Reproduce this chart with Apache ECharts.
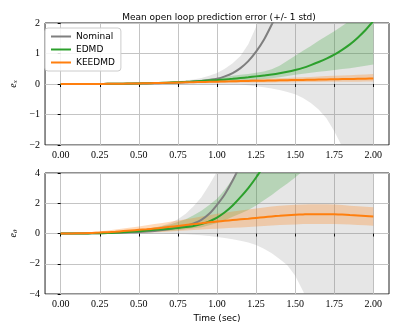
<!DOCTYPE html>
<html lang="en">
<head>
<meta charset="UTF-8">
<title>Mean open loop prediction error</title>
<style>html,body{margin:0;padding:0;background:#fff;}</style>
</head>
<body>
<div id="app" style="width:399px;height:332px;"></div>
<script src="https://cdn.jsdelivr.net/npm/echarts@6/dist/echarts.min.js"></script>
<script>
// time samples (sec)
const time = [0,0.05,0.1,0.15,0.2,0.25,0.3,0.35,0.4,0.45,0.5,0.55,0.6,0.65,0.7,0.75,0.8,0.85,0.9,0.95,
  1.0,1.05,1.1,1.15,1.2,1.25,1.3,1.35,1.4,1.45,1.5,1.55,1.6,1.65,1.7,1.75,1.8,1.85,1.9,1.95,2.0];
const xTicks = [0,0.25,0.5,0.75,1,1.25,1.5,1.75,2];

// e_x (top panel): mean, mean+std, mean-std
const nomX   = [0,0,0,0,0,0.003,0.005,0.007,0.01,0.012,0.015,0.02,0.025,0.032,0.04,0.05,0.06,0.08,0.1,0.13,
  0.17,0.25,0.36,0.52,0.75,1.06,1.45,1.95,2.5,3.3,4.2,5.3,6.5,8.2,10,12.5,15,18.5,22,27,32];
const nomXHi = [0,0.001,0.002,0.003,0.005,0.008,0.012,0.016,0.02,0.025,0.03,0.037,0.045,0.056,0.07,0.09,0.12,0.15,0.2,0.27,
  0.36,0.5,0.68,0.92,1.3,1.88,2.7,3.8,5,6.8,9,11.5,14,18,22,27,32,38,45,52,60];
const nomXLo = [0,0,-0.001,-0.002,-0.003,-0.005,-0.005,-0.005,-0.005,-0.005,-0.005,-0.005,-0.005,-0.005,-0.005,-0.005,-0.005,-0.005,-0.008,-0.01,
  -0.01,-0.01,-0.01,-0.02,-0.04,-0.07,-0.11,-0.15,-0.2,-0.26,-0.34,-0.46,-0.62,-0.84,-1.12,-1.55,-2.05,-2.7,-3.5,-4.6,-6];
const edX    = [0,0,0,0.001,0.002,0.003,0.005,0.007,0.01,0.015,0.02,0.025,0.03,0.04,0.05,0.06,0.07,0.085,0.1,0.115,
  0.13,0.15,0.17,0.195,0.22,0.25,0.28,0.31,0.35,0.4,0.46,0.53,0.62,0.72,0.83,0.96,1.12,1.3,1.52,1.77,2.07];
const edXHi  = [0,0,0.001,0.002,0.004,0.006,0.008,0.011,0.015,0.021,0.027,0.033,0.04,0.052,0.065,0.077,0.09,0.11,0.14,0.17,
  0.2,0.23,0.27,0.3,0.33,0.37,0.41,0.48,0.6,0.76,0.93,1.09,1.25,1.42,1.57,1.73,1.9,2.08,2.28,2.52,2.8];
const edXLo  = [0,0,0,0,0.001,0.002,0.003,0.004,0.006,0.009,0.013,0.016,0.02,0.027,0.035,0.042,0.05,0.06,0.07,0.075,
  0.08,0.09,0.1,0.11,0.12,0.14,0.16,0.19,0.22,0.26,0.3,0.34,0.37,0.4,0.43,0.46,0.49,0.52,0.56,0.6,0.64];
const kX     = [0,0,0,0.001,0.002,0.003,0.005,0.007,0.01,0.015,0.02,0.025,0.03,0.035,0.04,0.048,0.055,0.06,0.065,0.07,
  0.075,0.082,0.09,0.095,0.1,0.105,0.11,0.115,0.12,0.125,0.13,0.135,0.14,0.145,0.15,0.155,0.16,0.165,0.17,0.175,0.18];
const kXHi   = [0,0,0.001,0.002,0.004,0.007,0.01,0.015,0.02,0.025,0.03,0.037,0.045,0.052,0.06,0.07,0.08,0.088,0.095,0.103,
  0.11,0.12,0.13,0.14,0.15,0.16,0.17,0.18,0.19,0.2,0.21,0.22,0.23,0.245,0.26,0.27,0.28,0.29,0.3,0.315,0.33];
const kXLo   = [0,0,0,0,0,0,0,0.001,0.002,0.005,0.008,0.011,0.015,0.018,0.022,0.026,0.03,0.033,0.035,0.038,
  0.04,0.043,0.045,0.048,0.05,0.05,0.05,0.053,0.055,0.058,0.06,0.063,0.065,0.068,0.07,0.07,0.07,0.073,0.075,0.078,0.08];

// e_theta (bottom panel)
const nomT   = [0,0,0,0.005,0.01,0.02,0.03,0.045,0.06,0.08,0.1,0.13,0.17,0.23,0.3,0.39,0.5,0.66,0.9,1.3,
  1.9,2.6,3.5,4.6,6,7.6,9.5,11.5,14,17,20,24,28,33,38,44,50,57,65,75,85];
const nomTHi = [0,0.003,0.01,0.02,0.03,0.05,0.07,0.1,0.13,0.16,0.2,0.28,0.38,0.52,0.7,0.95,1.3,1.8,2.4,3.2,
  4.1,5.4,7,9,11,14,17,21,25,30,36,43,50,59,68,79,90,102,115,130,145];
const nomTLo = [0,0,0,0,0,-0.005,-0.005,-0.01,-0.01,-0.01,-0.01,-0.01,-0.005,0,-0.01,-0.03,-0.05,-0.08,-0.12,-0.17,
  -0.23,-0.3,-0.38,-0.48,-0.6,-0.76,-1.0,-1.3,-1.68,-2.1,-2.8,-3.8,-5,-6.4,-8,-10,-12,-14.5,-17,-20,-23];
const edT    = [0,0,0,0.005,0.01,0.02,0.03,0.05,0.08,0.11,0.15,0.19,0.24,0.28,0.32,0.37,0.43,0.5,0.62,0.8,
  1.05,1.4,1.85,2.4,3.0,3.7,4.5,5.4,6.5,7.7,9,10.5,12,14,16,18.5,21,24,27,30.5,34];
const edTHi  = [0,0.002,0.01,0.02,0.03,0.05,0.07,0.1,0.15,0.2,0.25,0.32,0.4,0.49,0.6,0.76,0.95,1.2,1.5,1.88,
  2.3,2.9,3.6,4.3,5.0,6,7,8.2,9.5,11,12.5,14,16,18.5,21,24,27,30.5,34,38,42];
const edTLo  = [0,0,0,0,0,0.005,0.01,0.02,0.03,0.05,0.08,0.1,0.12,0.15,0.18,0.22,0.28,0.34,0.42,0.54,
  0.7,0.88,1.1,1.32,1.55,1.85,2.2,2.55,2.95,3.3,3.7,4.15,4.6,5.1,5.6,6.2,6.8,7.4,8,8.7,9.5];
const kT     = [0,0.002,0.01,0.02,0.04,0.06,0.09,0.12,0.16,0.2,0.24,0.28,0.33,0.38,0.44,0.5,0.56,0.62,0.68,0.74,
  0.79,0.84,0.89,0.94,0.98,1.03,1.08,1.13,1.17,1.21,1.24,1.26,1.28,1.28,1.28,1.27,1.25,1.22,1.19,1.16,1.12];
const kTHi   = [0,0.01,0.03,0.06,0.1,0.15,0.2,0.26,0.33,0.4,0.47,0.54,0.62,0.7,0.78,0.86,0.95,1.03,1.12,1.21,
  1.3,1.38,1.45,1.52,1.58,1.65,1.72,1.78,1.83,1.87,1.9,1.92,1.94,1.94,1.93,1.91,1.88,1.84,1.8,1.77,1.74];
const kTLo   = [0,0,0,-0.005,-0.01,-0.01,0,0.01,0.02,0.03,0.04,0.06,0.08,0.1,0.13,0.16,0.2,0.23,0.27,0.3,
  0.32,0.35,0.38,0.4,0.43,0.46,0.5,0.53,0.56,0.58,0.6,0.62,0.63,0.63,0.63,0.62,0.61,0.59,0.57,0.54,0.51];

const GRAY = '#7f7f7f', GREEN = '#2ca02c', ORANGE = '#ff7f0e';
const SERIF = 'Liberation Serif', SANS = 'DejaVu Sans';

function pts(arr) { return time.map((t, i) => [t, arr[i]]); }

// filled region between lo and hi, drawn as one polygon through the axes' scales
function band(lo, hi, color, gi) {
  return {
    type: 'custom', xAxisIndex: gi, yAxisIndex: gi, clip: true, silent: true, z: 1,
    data: [[0, 0]],
    renderItem: function (params, api) {
      const top = time.map((t, i) => api.coord([t, hi[i]]));
      const bottom = time.map((t, i) => api.coord([t, lo[i]])).reverse();
      return { type: 'polygon', shape: { points: top.concat(bottom) }, style: { fill: color } };
    }
  };
}

function mean(name, arr, color, gi) {
  return {
    type: 'line', name: name, xAxisIndex: gi, yAxisIndex: gi, data: pts(arr),
    symbol: 'none', smooth: 0.2, color: color, lineStyle: { color: color, width: 2 }, z: 3
  };
}

function xAxis(gi, withName) {
  return {
    type: 'value', gridIndex: gi, min: -0.1, max: 2.1,
    name: withName ? 'Time (sec)' : '', nameLocation: 'middle', nameGap: 20,
    nameTextStyle: { fontFamily: SANS, fontSize: 9, color: '#000' },
    axisLine: { show: false },
    axisTick: { show: true, inside: false, length: 3, customValues: xTicks, lineStyle: { color: '#000' } },
    axisLabel: { customValues: xTicks, margin: 5, fontFamily: SERIF, fontSize: 10, color: '#000',
      formatter: v => v.toFixed(2) },
    splitLine: { show: true, lineStyle: { color: '#c4c4c4', width: 1 } }
  };
}

function yAxis(gi, lim, step, sub) {
  return {
    type: 'value', gridIndex: gi, min: -lim, max: lim, interval: step,
    name: '{i|e}{s|' + sub + '}', nameLocation: 'middle', nameGap: 22,
    nameTextStyle: { rich: {
      i: { fontFamily: SERIF, fontStyle: 'italic', fontSize: 10, color: '#000' },
      s: { fontFamily: SERIF, fontStyle: 'italic', fontSize: 7, color: '#000', padding: [4, 0, 0, 0] }
    } },
    axisLine: { show: false },
    axisTick: { show: true, inside: false, length: 3, lineStyle: { color: '#000' } },
    axisLabel: { margin: 5, fontFamily: SERIF, fontSize: 10, color: '#000',
      formatter: v => String(v).replace('-', '\u2212') },
    splitLine: { show: true, lineStyle: { color: '#c4c4c4', width: 1 } }
  };
}

const chart = echarts.init(document.getElementById('app'), null, { renderer: 'canvas' });
chart.setOption({
  animation: false,
  backgroundColor: '#fff',
  title: {
    text: 'Mean open loop prediction error (+/- 1 std)', left: 214, top: 8, textAlign: 'center',
    textStyle: { fontFamily: SANS, fontSize: 9, fontWeight: 'normal', color: '#000' }
  },
  legend: {
    data: ['Nominal', 'EDMD', 'KEEDMD'], orient: 'vertical', left: 45, top: 28,
    icon: 'rect', itemWidth: 20, itemHeight: 2, itemGap: 2,
    padding: [3, 6], backgroundColor: 'rgba(255,255,255,0.85)',
    borderColor: '#cccccc', borderWidth: 1, borderRadius: 3,
    textStyle: { fontFamily: SANS, fontSize: 9, color: '#000', lineHeight: 11 },
    selectedMode: false
  },
  grid: [
    { left: 40, top: 23, width: 349, height: 122, show: true, borderColor: '#222', borderWidth: 1 },
    { left: 40, top: 173, width: 349, height: 121, show: true, borderColor: '#222', borderWidth: 1 }
  ],
  xAxis: [xAxis(0, false), xAxis(1, true)],
  yAxis: [yAxis(0, 2, 1, 'x'), yAxis(1, 4, 2, '\u03b8')],
  series: [
    band(nomXLo, nomXHi, 'rgba(128,128,128,0.2)', 0),
    band(edXLo, edXHi, 'rgba(44,160,44,0.25)', 0),
    band(kXLo, kXHi, 'rgba(255,127,14,0.28)', 0),
    mean('Nominal', nomX, GRAY, 0), mean('EDMD', edX, GREEN, 0), mean('KEEDMD', kX, ORANGE, 0),
    band(nomTLo, nomTHi, 'rgba(128,128,128,0.2)', 1),
    band(edTLo, edTHi, 'rgba(44,160,44,0.25)', 1),
    band(kTLo, kTHi, 'rgba(255,127,14,0.28)', 1),
    mean('Nominal', nomT, GRAY, 1), mean('EDMD', edT, GREEN, 1), mean('KEEDMD', kT, ORANGE, 1)
  ]
});
</script>
</body>
</html>
